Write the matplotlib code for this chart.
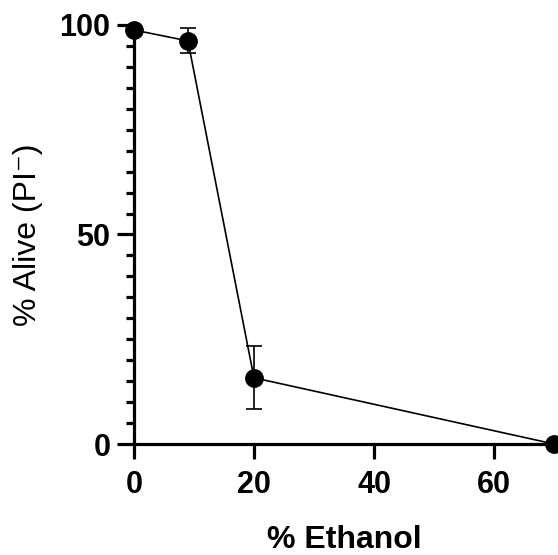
import numpy as np
import matplotlib
matplotlib.use("Agg")
import matplotlib.pyplot as plt
from matplotlib.ticker import MultipleLocator

# ethanol concentration vs viability
ethanol = [0, 9, 20, 70]
alive = [98.8, 96.2, 15.8, 0.0]
alive_err = [0.0, 3.0, 7.5, 0.0]
x_ticks = [0, 20, 40, 60]
y_ticks = [0, 50, 100]


def main():
    plt.rcParams['font.family'] = ['Liberation Sans', 'DejaVu Sans']

    fig = plt.figure(figsize=(5.58, 5.55), dpi=100)
    ax = fig.add_axes([0.240, 0.2, 0.753, 0.755])

    ax.errorbar(ethanol, alive, yerr=alive_err, color='black', lw=1.2,
                marker='o', markersize=12.5, capsize=6, capthick=1.2,
                elinewidth=1.2, clip_on=False, zorder=3)

    ax.set_xlim(0, 70)
    ax.set_ylim(0, 100)
    ax.set_xticks(x_ticks)
    ax.set_yticks(y_ticks)
    ax.yaxis.set_minor_locator(MultipleLocator(5))

    for side in ['top', 'right']:
        ax.spines[side].set_visible(False)
    for side in ['left', 'bottom']:
        ax.spines[side].set_linewidth(2.3)

    ax.tick_params(axis='x', which='major', length=11, width=2.3,
                   labelsize=22, pad=8)
    ax.tick_params(axis='y', which='major', length=12, width=2.3,
                   labelsize=22, pad=5)
    ax.tick_params(axis='y', which='minor', length=6, width=2.3)
    for lab in ax.get_xticklabels() + ax.get_yticklabels():
        lab.set_fontweight('bold')

    ax.set_xlabel('% Ethanol', fontsize=23, fontweight='bold', labelpad=18)
    ax.set_ylabel('% Alive (PI⁻)', fontsize=23, labelpad=12)

    fig.savefig('out.png', dpi=100)


if __name__ == "__main__":
    main()
